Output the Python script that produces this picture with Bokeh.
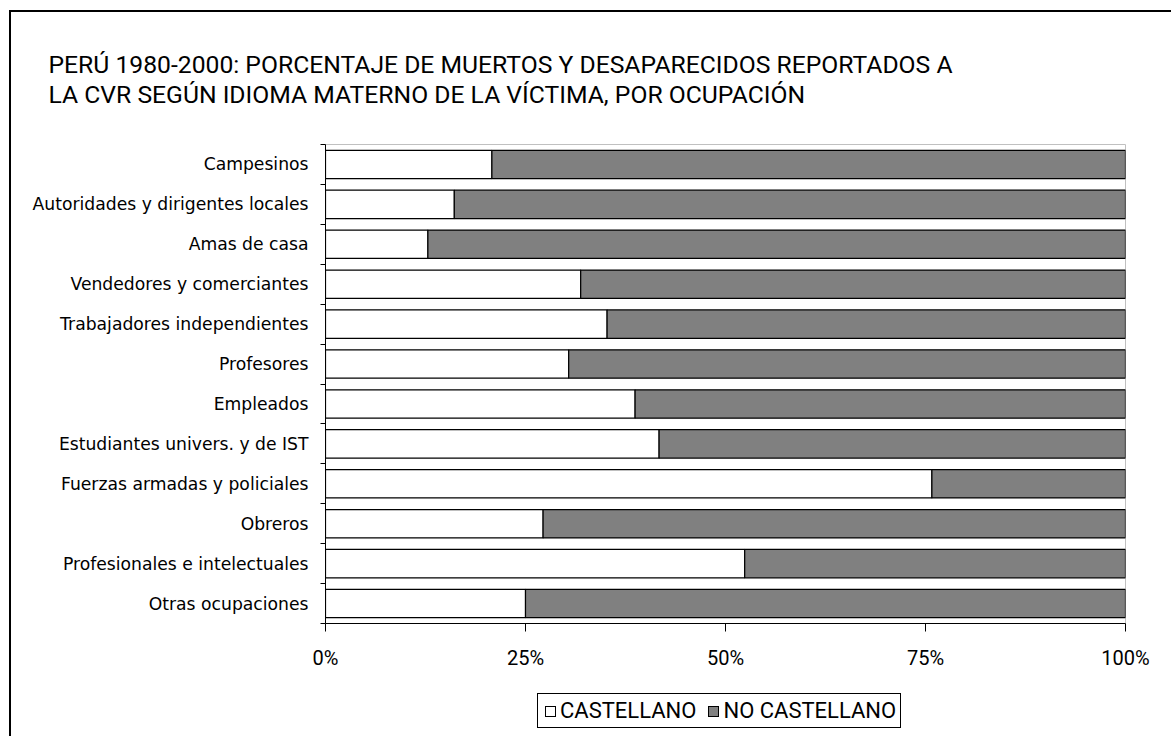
import numpy as np
from bokeh.plotting import figure
from bokeh.layouts import column
from bokeh.models import (Range1d, FixedTicker, PrintfTickFormatter, CustomJSTickFormatter,
                          Title, Div)
from bokeh.embed import file_html
from bokeh.resources import INLINE

# ---- data ----
categories = [
    "Campesinos",
    "Autoridades y dirigentes locales",
    "Amas de casa",
    "Vendedores y comerciantes",
    "Trabajadores independientes",
    "Profesores",
    "Empleados",
    "Estudiantes univers. y de IST",
    "Fuerzas armadas y policiales",
    "Obreros",
    "Profesionales e intelectuales",
    "Otras ocupaciones",
]
castellano = [20.8, 16.1, 12.8, 31.9, 35.2, 30.4, 38.7, 41.7, 75.8, 27.2, 52.4, 25.0]
no_castellano = [100 - v for v in castellano]
x_ticks = [0, 25, 50, 75, 100]
title_lines = [
    "PERÚ 1980-2000: PORCENTAJE DE MUERTOS Y DESAPARECIDOS REPORTADOS A",
    "LA CVR SEGÚN IDIOMA MATERNO DE LA VÍCTIMA, POR OCUPACIÓN",
]
series_names = ["CASTELLANO", "NO CASTELLANO"]
series_colors = ["white", "#808080"]

NARROW = "Roboto"
LABF = "DejaVu Sans"

y_pos = (np.arange(len(categories)) + 0.5).tolist()
cast_arr = np.array(castellano)

p = figure(width=1160, height=660, frame_width=800, frame_height=479,
           output_backend="svg", toolbar_location=None,
           x_range=Range1d(0, 100), y_range=Range1d(len(categories), 0),
           min_border_left=314, min_border_right=46, min_border_top=130, min_border_bottom=0)
p.background_fill_color = "white"
p.border_fill_color = "white"
p.outline_line_color = "#c0c0c0"
p.xgrid.visible = False
p.ygrid.visible = False

p.hbar(y=y_pos, left=0, right=castellano, height=0.71,
       fill_color=series_colors[0], line_color="black", line_width=1.2)
p.hbar(y=y_pos, left=castellano, right=(cast_arr + np.array(no_castellano)).tolist(), height=0.71,
       fill_color=series_colors[1], line_color="black", line_width=1.2)

# x axis
xa = p.xaxis[0]
xa.ticker = FixedTicker(ticks=x_ticks)
xa.formatter = PrintfTickFormatter(format="%d%%")
xa.major_tick_out = 8
xa.major_tick_in = 0
xa.minor_tick_out = 0
xa.minor_tick_in = 0
xa.axis_line_color = "black"
xa.major_tick_line_color = "black"
xa.major_label_text_font = NARROW
xa.major_label_text_font_size = "20px"
xa.major_label_text_color = "black"
xa.major_label_standoff = 14

# y axis
ya = p.yaxis[0]
ya.ticker = FixedTicker(ticks=y_pos, minor_ticks=list(range(len(categories) + 1)))
ya.formatter = CustomJSTickFormatter(args=dict(labels=categories),
                                     code="return labels[Math.floor(tick)];")
ya.major_tick_out = 0
ya.major_tick_in = 0
ya.minor_tick_out = 5
ya.minor_tick_in = 0
ya.axis_line_color = "black"
ya.minor_tick_line_color = "black"
ya.major_label_text_font = LABF
ya.major_label_text_font_size = "17.2px"
ya.major_label_text_color = "black"
ya.major_label_standoff = 12

# title (two lines)
p.add_layout(Title(text="\n".join(title_lines), align="left", offset=-277, standoff=71,
                   text_font=NARROW, text_font_size="24.7px", text_font_style="normal",
                   text_color="black", text_line_height=1.03), "above")

# legend (HTML box under the chart)
sw = ("display:inline-block;width:11px;height:11px;border:1px solid black;"
      "background:{c};margin:0 4px 0 {ml}px;vertical-align:middle")
items_html = "".join(
    '<span style="{s}"></span><span style="vertical-align:middle">{t}</span>'.format(
        s=sw.format(c=c, ml=(0 if i == 0 else 12)), t=t)
    for i, (t, c) in enumerate(zip(series_names, series_colors)))
legend_html = ('<div style="display:inline-block;border:1px solid black;padding:2px 4px 2px 7px;'
               'font-family:Roboto;font-size:22px;line-height:28px;color:black;'
               'white-space:nowrap;background:white">' + items_html + '</div>')
legend_div = Div(text=legend_html, margin=(21, 0, 8, 526))

layout = column(p, legend_div,
                styles={"margin-left": "9px", "margin-top": "10px",
                        "border-left": "2px solid black", "border-top": "2px solid black"})

open("out.html", "w").write(file_html(layout, INLINE))
